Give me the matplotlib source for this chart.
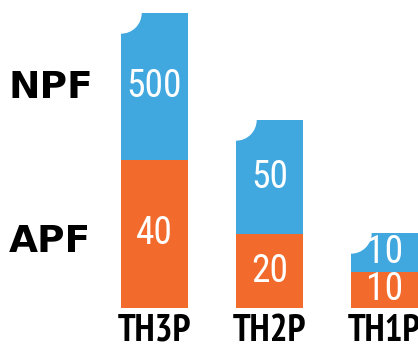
import matplotlib
matplotlib.use('Agg')
import matplotlib.pyplot as plt
from matplotlib.patches import Ellipse

categories = ['TH3P', 'TH2P', 'TH1P']
apf_values = [40, 20, 10]
npf_values = [500, 50, 10]
# drawn segment heights as they appear in the picture (not to scale with values)
apf_heights = [148, 74, 36]
npf_heights = [147, 114, 39]

blue = '#41a8df'
orange = '#f26b2c'
value_font = ['Roboto Condensed', 'DejaVu Sans']
tick_font = ['PT Sans Narrow', 'DejaVu Sans']

W, H = 418, 348
fig = plt.figure(figsize=(W / 100, H / 100), dpi=100)
ax = fig.add_axes([0, 40 / H, 1, 1 - 40 / H])

x = list(range(len(categories)))
width = 67 / 115
b1 = ax.bar(x, apf_heights, width=width, color=orange, zorder=2)
b2 = ax.bar(x, npf_heights, bottom=apf_heights, width=width, color=blue, zorder=2)

ax.set_xlim(-154.5 / 115, (W - 154.5) / 115)
ax.set_ylim(0, H - 40)

for cont, vals in [(b1, apf_values), (b2, npf_values)]:
    ax.bar_label(cont, labels=[str(v) for v in vals], label_type='center',
                 color='white', fontsize=27, family=value_font)

# quarter-circle notch at the top-left corner of each blue segment
r_px = 20
xr = (ax.get_xlim()[1] - ax.get_xlim()[0]) / W * r_px
yr = (ax.get_ylim()[1] - ax.get_ylim()[0]) / (H - 40) * r_px
for bar in b2:
    cx = bar.get_x()
    cy = bar.get_y() + bar.get_height()
    ax.add_patch(Ellipse((cx, cy), 2 * xr, 2 * yr, color='white', zorder=3, clip_on=False))

ax.set_xticks(x)
ax.set_xticklabels(categories, fontsize=27, fontweight='bold', family=tick_font)
ax.tick_params(axis='x', length=0, pad=4)
ax.set_yticks([])
for s in ax.spines.values():
    s.set_visible(False)

fig.text(9 / W, 1 - 88 / H, 'NPF', fontsize=27, fontweight='heavy', va='center', ha='left')
fig.text(9 / W, 1 - 242 / H, 'APF', fontsize=27, fontweight='heavy', va='center', ha='left')

fig.savefig('out.png', dpi=100)
